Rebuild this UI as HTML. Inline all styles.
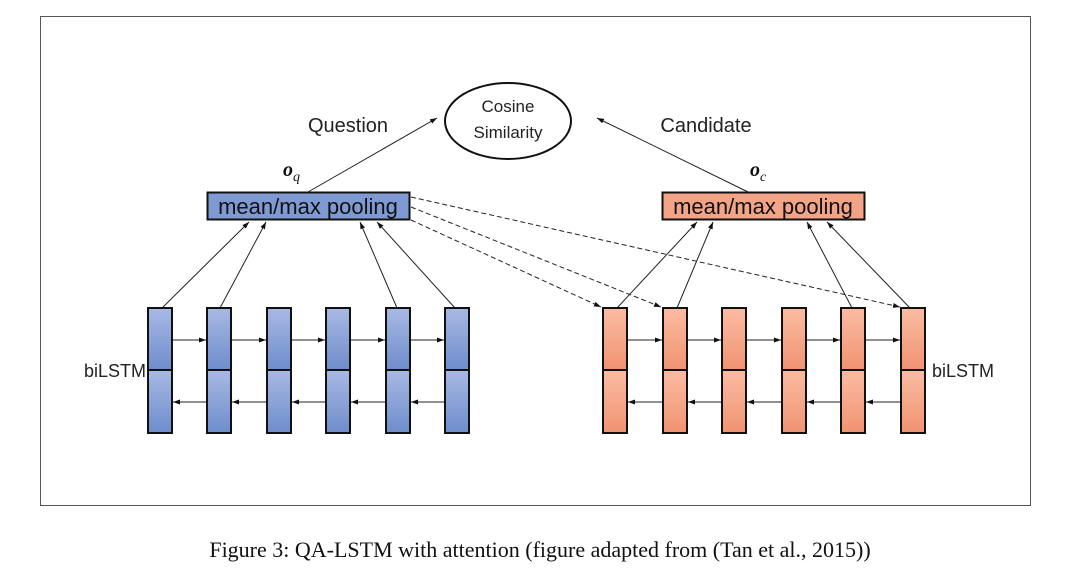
<!DOCTYPE html>
<html><head><meta charset="utf-8"><style>
body{margin:0;background:#fff;width:1080px;height:580px;overflow:hidden}
svg{display:block}
</style></head><body>
<svg width="1080" height="580" xmlns="http://www.w3.org/2000/svg" font-family="Liberation Sans, sans-serif">
<defs>
<marker id="a" markerWidth="8" markerHeight="8" refX="7" refY="4" orient="auto" markerUnits="userSpaceOnUse"><path d="M0,1.5 L7,4 L0,6.5z" fill="#111"/></marker>
<linearGradient id="b" x1="0" y1="0" x2="0" y2="1"><stop offset="0" stop-color="#a9b9e3"/><stop offset="1" stop-color="#6e8dcc"/></linearGradient>
<linearGradient id="o" x1="0" y1="0" x2="0" y2="1"><stop offset="0" stop-color="#fbbca3"/><stop offset="1" stop-color="#f09372"/></linearGradient>
</defs>
<rect x="40.5" y="16.5" width="990" height="489" fill="none" stroke="#555" stroke-width="1"/>
<ellipse cx="508" cy="121" rx="63" ry="38" fill="#fff" stroke="#111" stroke-width="2"/>
<text x="508" y="112" font-size="17" text-anchor="middle" fill="#222">Cosine</text>
<text x="508" y="138" font-size="17" text-anchor="middle" fill="#222">Similarity</text>
<text x="348" y="132" font-size="20" text-anchor="middle" fill="#222">Question</text>
<text x="706" y="132" font-size="20" text-anchor="middle" fill="#222">Candidate</text>
<text x="283" y="176" font-size="20" font-weight="bold" font-style="italic" font-family="Liberation Serif, serif" fill="#111">o<tspan font-size="14" font-weight="normal" dy="5">q</tspan></text>
<text x="750" y="176" font-size="20" font-weight="bold" font-style="italic" font-family="Liberation Serif, serif" fill="#111">o<tspan font-size="14" font-weight="normal" dy="5">c</tspan></text>
<line x1="308" y1="192" x2="437" y2="118" stroke="#222" marker-end="url(#a)"/>
<line x1="748" y1="192" x2="597" y2="118" stroke="#222" marker-end="url(#a)"/>
<rect x="207.5" y="192.5" width="202" height="27" fill="#7f9ad3" stroke="#111" stroke-width="2"/>
<text x="308" y="214" font-size="22" text-anchor="middle" fill="#111">mean/max pooling</text>
<rect x="662.5" y="192.5" width="202" height="27" fill="#f4a486" stroke="#111" stroke-width="2"/>
<text x="763" y="214" font-size="22" text-anchor="middle" fill="#111">mean/max pooling</text>
<g stroke="#222" stroke-dasharray="5,3" fill="none">
<line x1="411" y1="197" x2="900" y2="307" marker-end="url(#a)"/>
<line x1="411" y1="207" x2="661" y2="307" marker-end="url(#a)"/>
<line x1="411" y1="220" x2="601" y2="307" marker-end="url(#a)"/>
</g>
<g stroke="#222" fill="none">
<line x1="162" y1="308" x2="249" y2="222" marker-end="url(#a)"/>
<line x1="220" y1="308" x2="266" y2="222" marker-end="url(#a)"/>
<line x1="397" y1="308" x2="360" y2="222" marker-end="url(#a)"/>
<line x1="455" y1="308" x2="377" y2="222" marker-end="url(#a)"/>
<line x1="617" y1="308" x2="697" y2="222" marker-end="url(#a)"/>
<line x1="677" y1="308" x2="713" y2="222" marker-end="url(#a)"/>
<line x1="852" y1="308" x2="807" y2="222" marker-end="url(#a)"/>
<line x1="910" y1="308" x2="827" y2="222" marker-end="url(#a)"/>
</g>
<g stroke="#111" stroke-width="2">
<rect x="148" y="308" width="24" height="62" fill="url(#b)"/><rect x="148" y="370" width="24" height="63" fill="url(#b)"/>
<rect x="207" y="308" width="24" height="62" fill="url(#b)"/><rect x="207" y="370" width="24" height="63" fill="url(#b)"/>
<rect x="267" y="308" width="24" height="62" fill="url(#b)"/><rect x="267" y="370" width="24" height="63" fill="url(#b)"/>
<rect x="326" y="308" width="24" height="62" fill="url(#b)"/><rect x="326" y="370" width="24" height="63" fill="url(#b)"/>
<rect x="386" y="308" width="24" height="62" fill="url(#b)"/><rect x="386" y="370" width="24" height="63" fill="url(#b)"/>
<rect x="445" y="308" width="24" height="62" fill="url(#b)"/><rect x="445" y="370" width="24" height="63" fill="url(#b)"/>
<rect x="603" y="308" width="24" height="62" fill="url(#o)"/><rect x="603" y="370" width="24" height="63" fill="url(#o)"/>
<rect x="663" y="308" width="24" height="62" fill="url(#o)"/><rect x="663" y="370" width="24" height="63" fill="url(#o)"/>
<rect x="722" y="308" width="24" height="62" fill="url(#o)"/><rect x="722" y="370" width="24" height="63" fill="url(#o)"/>
<rect x="782" y="308" width="24" height="62" fill="url(#o)"/><rect x="782" y="370" width="24" height="63" fill="url(#o)"/>
<rect x="841" y="308" width="24" height="62" fill="url(#o)"/><rect x="841" y="370" width="24" height="63" fill="url(#o)"/>
<rect x="901" y="308" width="24" height="62" fill="url(#o)"/><rect x="901" y="370" width="24" height="63" fill="url(#o)"/>
</g>
<g stroke="#222">
<line x1="173" y1="340" x2="206" y2="340" marker-end="url(#a)"/>
<line x1="232" y1="340" x2="266" y2="340" marker-end="url(#a)"/>
<line x1="292" y1="340" x2="325" y2="340" marker-end="url(#a)"/>
<line x1="351" y1="340" x2="385" y2="340" marker-end="url(#a)"/>
<line x1="411" y1="340" x2="444" y2="340" marker-end="url(#a)"/>
<line x1="206" y1="402" x2="173" y2="402" marker-end="url(#a)"/>
<line x1="266" y1="402" x2="232" y2="402" marker-end="url(#a)"/>
<line x1="325" y1="402" x2="292" y2="402" marker-end="url(#a)"/>
<line x1="385" y1="402" x2="351" y2="402" marker-end="url(#a)"/>
<line x1="444" y1="402" x2="411" y2="402" marker-end="url(#a)"/>
<line x1="628" y1="340" x2="662" y2="340" marker-end="url(#a)"/>
<line x1="688" y1="340" x2="721" y2="340" marker-end="url(#a)"/>
<line x1="747" y1="340" x2="781" y2="340" marker-end="url(#a)"/>
<line x1="807" y1="340" x2="840" y2="340" marker-end="url(#a)"/>
<line x1="866" y1="340" x2="900" y2="340" marker-end="url(#a)"/>
<line x1="662" y1="402" x2="628" y2="402" marker-end="url(#a)"/>
<line x1="721" y1="402" x2="688" y2="402" marker-end="url(#a)"/>
<line x1="781" y1="402" x2="747" y2="402" marker-end="url(#a)"/>
<line x1="840" y1="402" x2="807" y2="402" marker-end="url(#a)"/>
<line x1="900" y1="402" x2="866" y2="402" marker-end="url(#a)"/>
</g>
<text x="84" y="377" font-size="18" fill="#222">biLSTM</text>
<text x="932" y="377" font-size="18" fill="#222">biLSTM</text>
<text x="540" y="557" font-size="22" text-anchor="middle" font-family="Liberation Serif, serif" fill="#111">Figure 3: QA-LSTM with attention (figure adapted from (Tan et al., 2015))</text>
</svg>
</body></html>
